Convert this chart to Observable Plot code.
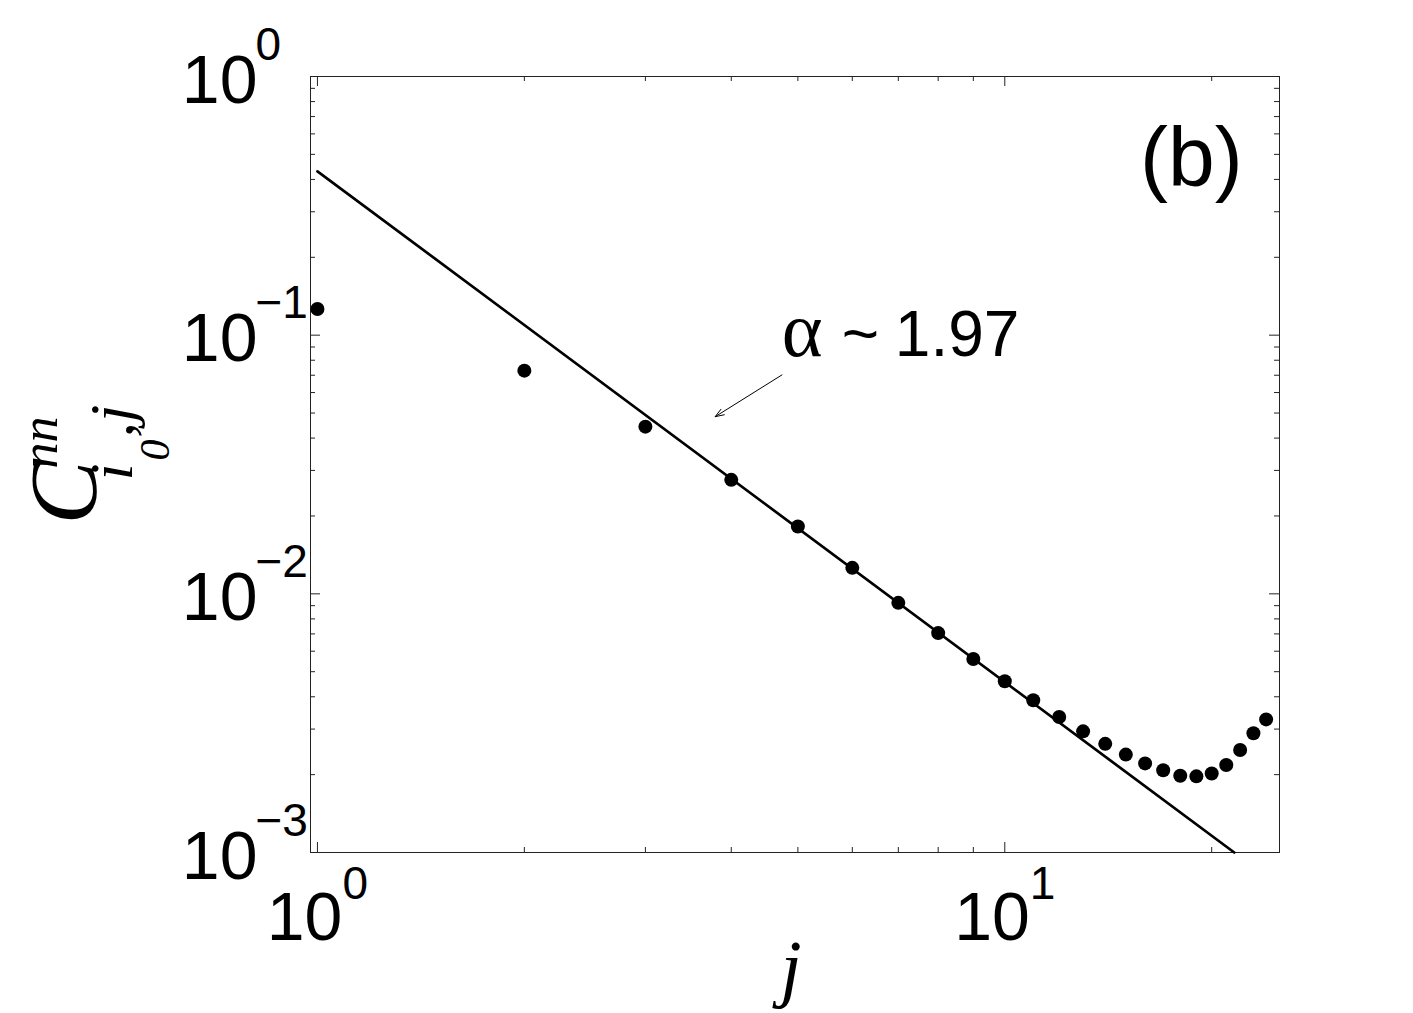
<!DOCTYPE html>
<html><head><meta charset="utf-8">
<script src="https://cdn.jsdelivr.net/npm/d3@7"></script>
<script src="https://cdn.jsdelivr.net/npm/@observablehq/plot@0.6"></script>
<style>body{margin:0;background:#fff}</style>
</head><body><div id="chart"></div>
<script>
// data
const jValues = [1,2,3,4,5,6,7,8,9,10,11,12,13,14,15,16,17,18,19,20,21,22,23,24];
const cValues = [0.1262,0.0729,0.0443,0.02758,0.0182,0.0126,0.00923,0.00705,0.0056,0.00459,0.00388,0.00334,0.00294,0.00263,0.00239,0.00221,0.00208,0.00198,0.00197,0.00202,0.00218,0.00249,0.00289,0.00327];
const fitJ = [1, 21.57];
const fitC = [0.43, 0.001];
const xDomain = [0.977, 25.1];
const yDomain = [0.001, 1];
const xMajor = [1, 10];
const xExp = ["0", "1"];
const xMinor = [2,3,4,5,6,7,8,9,20];
const yMajor = [0.001, 0.01, 0.1, 1];
const yExp = ["\u22123", "\u22122", "\u22121", "0"];
const yMinor = [0.002,0.003,0.004,0.005,0.006,0.007,0.008,0.009,0.02,0.03,0.04,0.05,0.06,0.07,0.08,0.09,0.2,0.3,0.4,0.5,0.6,0.7,0.8,0.9];
const annotArrow = [{x1: 4.74, y1: 0.0702, x2: 3.79, y2: 0.0484}];
const annotPos = {j: 4.77, c: 0.0833};
const panelPos = {j: 15.73, c: 0.378};

const points = jValues.map((d, i) => ({j: d, c: cValues[i]}));
const fit = fitJ.map((d, i) => ({j: d, c: fitC[i]}));
const xMaj = xMajor.map((d, i) => ({v: d, e: xExp[i]}));
const yMaj = yMajor.map((d, i) => ({v: d, e: yExp[i]}));

const width = 1413, height = 1013;
const mL = 310, mR = 134, mT = 76, mB = 161;
const W = width - mL - mR, H = height - mT - mB;
const midY = mT + H / 2;
const axisColor = "#222";
const sans = "Liberation Sans, Arial, Helvetica, sans-serif";
const serif = "Liberation Serif, Times New Roman, serif";

function ylab(str, size, bx, sy) {
  return Plot.text([0], {frameAnchor: "left", text: () => str, fontFamily: serif, fontStyle: "italic", fontSize: size, rotate: -90, textAnchor: "start", lineAnchor: "bottom", dx: bx - mL, dy: sy - midY, fill: "black"});
}

const chart = Plot.plot({
  width, height,
  marginLeft: mL, marginRight: mR, marginTop: mT, marginBottom: mB,
  style: {fontFamily: sans, background: "white"},
  x: {type: "log", domain: xDomain, axis: null},
  y: {type: "log", domain: yDomain, axis: null},
  marks: [
    // ticks (inward, mirrored)
    Plot.tickX(xMajor, {x: d => d, stroke: axisColor, insetTop: H - 10}),
    Plot.tickX(xMajor, {x: d => d, stroke: axisColor, insetBottom: H - 10}),
    Plot.tickX(xMinor, {x: d => d, stroke: axisColor, insetTop: H - 5}),
    Plot.tickX(xMinor, {x: d => d, stroke: axisColor, insetBottom: H - 5}),
    Plot.tickY(yMajor, {y: d => d, stroke: axisColor, insetRight: W - 10}),
    Plot.tickY(yMajor, {y: d => d, stroke: axisColor, insetLeft: W - 10}),
    Plot.tickY(yMinor, {y: d => d, stroke: axisColor, insetRight: W - 5}),
    Plot.tickY(yMinor, {y: d => d, stroke: axisColor, insetLeft: W - 5}),
    Plot.frame({stroke: axisColor, strokeWidth: 1}),
    // fit line and data
    Plot.line(fit, {x: "j", y: "c", stroke: "black", strokeWidth: 2.7}),
    Plot.dot(points, {x: "j", y: "c", r: 7, fill: "black", stroke: "none"}),
    // tick labels
    Plot.text(yMaj, {x: () => xDomain[0], y: "v", text: () => "10", textAnchor: "end", lineAnchor: "bottom", dx: -53, dy: 26, fontSize: 68, fill: "black"}),
    Plot.text(yMaj, {x: () => xDomain[0], y: "v", text: "e", textAnchor: "start", lineAnchor: "bottom", dx: -55, dy: -17, fontSize: 46, fill: "black"}),
    Plot.text(xMaj, {x: "v", y: () => yDomain[0], text: () => "10", textAnchor: "end", lineAnchor: "bottom", dx: 25, dy: 87, fontSize: 68, fill: "black"}),
    Plot.text(xMaj, {x: "v", y: () => yDomain[0], text: "e", textAnchor: "start", lineAnchor: "bottom", dx: 25, dy: 46, fontSize: 46, fill: "black"}),
    // axis labels
    Plot.text([0], {frameAnchor: "bottom", text: () => "j", fontFamily: serif, fontStyle: "italic", fontSize: 76, lineAnchor: "bottom", textAnchor: "middle", dx: -4, dy: 140, fill: "black"}),
    ylab("C", 96, 95, 524),
    ylab("nn", 52, 56, 468),
    ylab("i", 62, 131, 480),
    ylab("0", 42, 168, 460),
    ylab(",j", 62, 131, 437),
    // annotation
    Plot.arrow(annotArrow, {x1: "x1", y1: "y1", x2: "x2", y2: "y2", stroke: "black", strokeWidth: 1, headLength: 14, headAngle: 40}),
    Plot.text([annotPos], {x: "j", y: "c", text: () => "\u03b1", fontFamily: serif, fontSize: 78, textAnchor: "start", lineAnchor: "bottom", dx: -2, fill: "black"}),
    Plot.text([annotPos], {x: "j", y: "c", text: () => "~", fontSize: 64, textAnchor: "start", lineAnchor: "bottom", dx: 58, fill: "black"}),
    Plot.text([annotPos], {x: "j", y: "c", text: () => "1.97", fontSize: 64, textAnchor: "start", lineAnchor: "bottom", dx: 111, fill: "black"}),
    Plot.text([panelPos], {x: "j", y: "c", text: () => "(b)", fontSize: 84, textAnchor: "start", lineAnchor: "bottom", fill: "black"})
  ]
});
document.getElementById("chart").appendChild(chart);
</script>
</body></html>
